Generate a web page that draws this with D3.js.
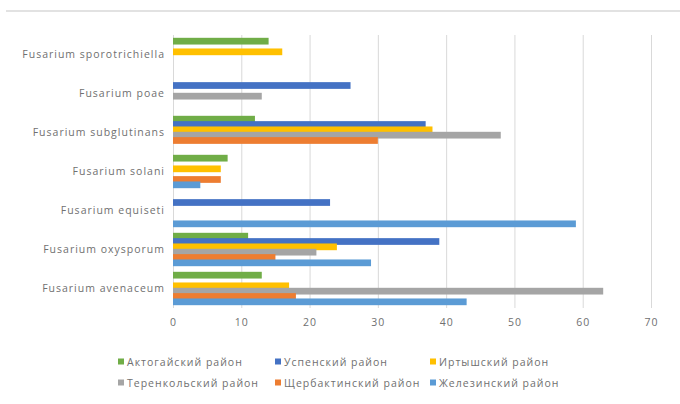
<!DOCTYPE html>
<html>
<head>
<meta charset="utf-8">
<script src="https://cdn.jsdelivr.net/npm/d3@7"></script>
<style>
  html, body { margin: 0; padding: 0; background: #fff; }
  svg { display: block; font-family: "Open Sans", "Liberation Sans", sans-serif; }
</style>
</head>
<body>
<svg id="chart" width="680" height="404"></svg>
<script>
// Species (top to bottom)
const categories = [
  "Fusarium sporotrichiella",
  "Fusarium poae",
  "Fusarium subglutinans",
  "Fusarium solani",
  "Fusarium equiseti",
  "Fusarium oxysporum",
  "Fusarium avenaceum"
];

// Districts
const seriesNames = [
  "Актогайский район",
  "Успенский район",
  "Иртышский район",
  "Теренкольский район",
  "Щербактинский район",
  "Железинский район"
];
const seriesColors = ["#70ad47", "#4472c4", "#ffc000", "#a5a5a5", "#ed7d31", "#5b9bd5"];

// Values per district, in the order of categories
const aktogay      = [14, 0, 12, 8, 0, 11, 13];
const uspensky     = [0, 26, 37, 0, 23, 39, 0];
const irtysh       = [16, 0, 38, 7, 0, 24, 17];
const terenkol     = [0, 13, 48, 0, 0, 21, 63];
const shcherbakty  = [0, 0, 30, 7, 0, 15, 18];
const zhelezinsky  = [0, 0, 0, 4, 59, 29, 43];
const seriesValues = [aktogay, uspensky, irtysh, terenkol, shcherbakty, zhelezinsky];

const xTicks = [0, 10, 20, 30, 40, 50, 60, 70];

const svg = d3.select("#chart");
const plot = { left: 173, right: 651, top: 35, bottom: 308 };
const textColor = "#707070";
const fontSize = 10.5;
const spacing = "1px";

// Frame line along the top
svg.append("line")
  .attr("x1", 6).attr("x2", 680).attr("y1", 11).attr("y2", 11)
  .attr("stroke", "#d9d9d9").attr("stroke-width", 1.5);

const x = d3.scaleLinear().domain([0, 70]).range([plot.left, plot.right]);
const y = d3.scaleBand().domain(categories).range([plot.top, plot.bottom]).paddingInner(0.18).paddingOuter(0.09);
const ySeries = d3.scaleBand().domain(d3.range(seriesNames.length)).range([0, y.bandwidth()]);

// Vertical gridlines and tick labels
const xAxis = d3.axisBottom(x).tickValues(xTicks).tickSize(-(plot.bottom - plot.top)).tickPadding(11);
const gx = svg.append("g").attr("transform", `translate(0,${plot.bottom})`).call(xAxis);
gx.select(".domain").remove();
gx.selectAll(".tick line").attr("stroke", "#d9d9d9").attr("stroke-width", 1);
gx.selectAll(".tick text").attr("fill", textColor).attr("font-size", fontSize)
  .attr("font-family", "'Open Sans', sans-serif").style("letter-spacing", spacing);

// Category labels
const yAxis = d3.axisLeft(y).tickSize(0).tickPadding(8);
const gy = svg.append("g").attr("transform", `translate(${plot.left},0)`).call(yAxis);
gy.select(".domain").remove();
gy.selectAll(".tick text").attr("fill", textColor).attr("font-size", fontSize)
  .attr("font-family", "'Open Sans', sans-serif").style("letter-spacing", spacing);

// Bars
const barH = ySeries.bandwidth() + 1.4;
seriesValues.forEach((vals, si) => {
  svg.append("g")
    .selectAll("rect")
    .data(categories.map((c, i) => ({ c, v: vals[i] })).filter(d => d.v > 0))
    .join("rect")
    .attr("x", x(0))
    .attr("y", d => y(d.c) + ySeries(si) - 0.7)
    .attr("width", d => x(d.v) - x(0))
    .attr("height", barH)
    .attr("fill", seriesColors[si]);
});

// Legend: three columns, two rows
const legendCols = [118, 275, 430];
const legendRows = [362, 383];
const lg = svg.append("g");
seriesNames.forEach((name, i) => {
  const cx = legendCols[i % 3], cy = legendRows[Math.floor(i / 3)];
  const item = lg.append("g").attr("transform", `translate(${cx},${cy})`);
  item.append("rect").attr("x", 0).attr("y", -3.5).attr("width", 6).attr("height", 6).attr("fill", seriesColors[i]);
  item.append("text").attr("x", 9).attr("y", 0).attr("dy", "0.35em")
    .attr("fill", textColor).attr("font-size", fontSize)
    .style("letter-spacing", spacing).text(name);
});
</script>
</body>
</html>
